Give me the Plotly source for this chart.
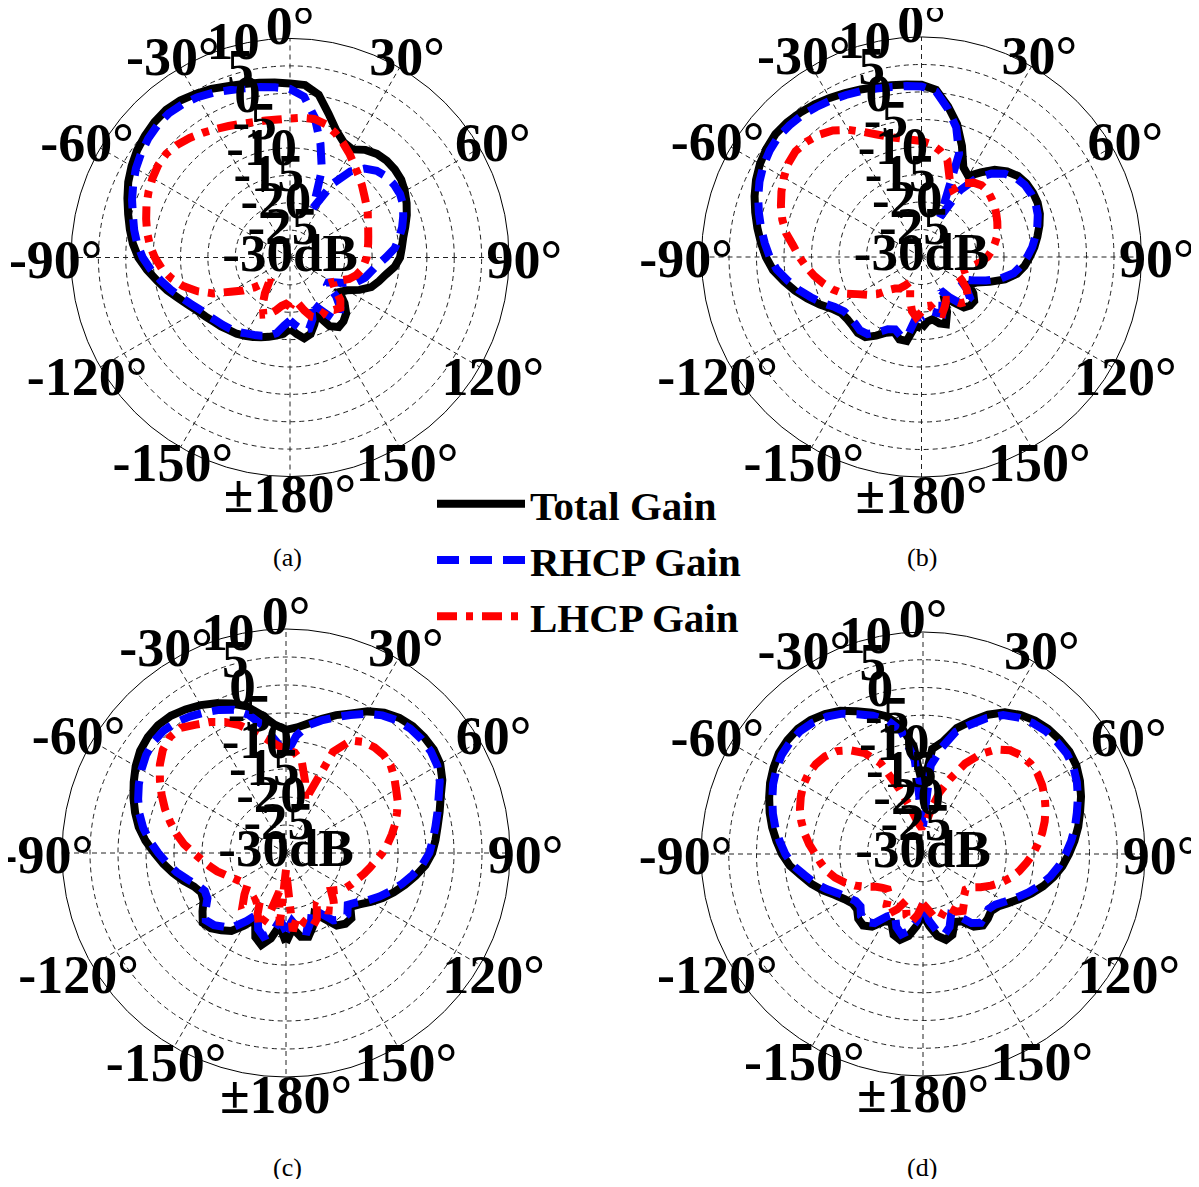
import plotly.graph_objects as go

# ---------------- data (dB, angles in degrees, clockwise from top) ----------------
THETA = list(range(-180, 181, 5))

A_TOTAL = [-17, -16, -15.5, -15, -14.5, -14, -13.5, -13, -12.7, -12.2, -11.8, -11.2, -10.5, -9.5, -8.3, -6.8,
           -5.4, -3.8, -2.3, -1.2, -0.3, 0.6, 1.6, 2.6, 3.4, 4.1, 4.6, 5.0, 5.2, 5.0, 4.5, 4.0, 3.3, 2.8, 2.4,
           2.1, 1.8, 1.6, 0.2, -2.8, -5.3, -6.8, -7.2, -6.0, -5.3, -5.0, -5.0, -5.2, -5.8, -6.5, -7.3, -8.2,
           -9.0, -9.5, -9.9, -10.8, -12.2, -13.2, -14.2, -16, -18, -19, -17, -15.5, -14.8, -14.5, -15.5, -18.5,
           -17, -15.5, -15, -16, -17]
A_RHCP = [-18.5, -17.5, -16, -15.2, -14.8, -14.4, -14, -13.4, -13, -12.6, -12.2, -11.6, -11, -10, -8.8, -7.4,
          -6, -4.5, -3.1, -2, -1.1, -0.3, 0.7, 1.6, 2.5, 3.2, 3.8, 4.2, 4.4, 4.2, 3.8, 3.2, 2.5, 2, 1.6, 1.2,
          0.8, -0.5, -4, -8.5, -13, -20, -14.5, -10.8, -8.8, -7.6, -7, -6.8, -6.8, -7.2, -8, -8.8, -9.8, -10.8,
          -12.5, -14, -15, -15.8, -17, -19, -21, -22, -19, -17, -16, -16.5, -19, -21, -18, -16.5, -16.5, -17.5,
          -18.5]
A_LHCP = [-21, -21.5, -21, -20, -19, -18.5, -20, -22, -24, -23.5, -21.5, -19.5, -17.5, -14.5, -12, -9.8, -8,
          -6.5, -5.3, -4.3, -3.5, -2.8, -2.1, -1.5, -1, -0.6, -0.5, -0.9, -1.5, -2.2, -2.9, -3.5, -4, -4.4,
          -4.6, -4.7, -4.6, -4.4, -4.3, -4.8, -5.8, -7, -8.2, -9.5, -10.5, -11.4, -12.3, -13, -13.6, -14.3,
          -14.8, -15.2, -15.5, -15.8, -16, -16.4, -16.8, -17.5, -18.5, -20, -21, -20, -18, -17, -17.5, -18.5,
          -18, -17.8, -18.5, -20, -21.5, -22, -21]

B_TOTAL = [-17, -17.5, -14.5, -14.5, -15.5, -14.8, -13.5, -12.2, -12, -12.3, -12.4, -12.2, -11.2, -9.6, -7.9,
           -6.2, -4.6, -2.9, -1.7, -0.7, 0.3, 1.3, 2.3, 3.2, 3.9, 4.4, 4.7, 4.6, 4.3, 3.9, 3.4, 2.9, 2.4, 2.0,
           1.7, 1.5, 1.3, 0.5, -2.2, -5, -8.5, -12, -13, -11.2, -9.3, -8, -7.1, -6.7, -6.6, -6.7, -7.1, -7.8,
           -8.6, -9.4, -10.3, -11.2, -12.4, -14.3, -16.8, -19, -20, -18.5, -17.5, -17.5, -18, -20, -22, -19,
           -17, -17.5, -18.5, -18.2, -17]
B_RHCP = [-19, -19, -15.5, -15.2, -16, -15.5, -14.2, -12.9, -12.6, -12.9, -13, -12.8, -11.8, -10.2, -8.6, -6.9,
          -5.3, -3.6, -2.4, -1.4, -0.4, 0.6, 1.6, 2.5, 3.2, 3.7, 4, 3.9, 3.7, 3.3, 2.9, 2.5, 2.1, 1.7, 1.4, 1.2,
          1, 0.2, -2.6, -5.6, -10, -22, -16, -12.5, -10.2, -8.6, -7.6, -7.1, -7, -7.1, -7.5, -8.2, -9, -9.8,
          -10.8, -11.8, -13, -15, -17.5, -20, -22, -20, -18.5, -18.5, -19, -21, -23, -21, -19, -19.5, -20,
          -19.5, -19]
B_LHCP = [-20, -19, -20, -22, -24, -25, -24, -23, -22.5, -21.5, -19.5, -18, -16.5, -14.3, -12.8, -11.5, -10.2,
          -9, -7.8, -6.6, -5, -3.8, -2.8, -1.9, -1.1, -0.4, -0.1, -0.4, -1, -1.9, -3.3, -4.9, -6.3, -7.4, -8.1,
          -8.6, -8.9, -9.4, -10.4, -11.8, -15, -16.5, -14.5, -13.5, -13, -13, -13.4, -13.8, -14.3, -14.8,
          -15.3, -15.8, -16.5, -17.2, -18, -19.2, -20.5, -21.5, -22.5, -23, -21.5, -20, -19, -18.5, -19,
          -20.5, -21, -20, -19, -19.5, -21, -21, -20]

C_TOTAL = [-14, -17, -14.5, -13, -14, -17, -15, -13, -12, -11, -10.6, -11.8, -13, -13.3, -12.5, -11, -9.5, -8,
           -6.5, -4.8, -3.3, -2.1, -1.0, 0, 1.0, 1.8, 2.2, 2.3, 2.0, 1.3, 0.5, -0.5, -1.6, -2.9, -5, -7, -8,
           -7.5, -6.5, -5.2, -3.8, -2.5, -0.8, 0.6, 1.5, 2, 2.2, 2.2, 1.8, 0.8, -0.6, -1.6, -2.5, -3.2, -3.9,
           -5, -6.5, -8, -9.5, -11, -12.5, -14, -15, -13.5, -13.5, -14.2, -16.5, -18, -16, -14.5, -14.8, -16.5,
           -14]
C_RHCP = [-16, -18, -15.5, -14.5, -15.5, -18, -16, -14, -12.8, -11.8, -11.3, -12.5, -13.8, -14, -13.2, -11.8,
          -10.2, -8.7, -7.2, -5.6, -4.1, -2.9, -1.9, -1.0, -0.2, 0.5, 0.9, 0.9, 0.5, -0.2, -1, -1.8, -2.8, -4.5,
          -7, -10, -12.5, -9, -6.8, -5.5, -4.2, -2.8, -1.3, 0, 0.9, 1.4, 1.6, 1.6, 1.2, 0.3, -1, -2, -2.9, -3.7,
          -4.4, -5.6, -7.1, -8.6, -10.1, -11.6, -13.1, -14.6, -15.6, -14.5, -14.5, -15.3, -17.5, -19, -17,
          -15.5, -16, -17.8, -16]
C_LHCP = [-27, -17, -23, -19, -16, -18, -21, -19.5, -18, -19.5, -21, -20.8, -20.2, -19.5, -18.5, -17.3, -16.2,
          -15, -13.5, -11.7, -10.1, -8.6, -7, -5.5, -4, -2.5, -1.3, -0.7, -0.8, -2, -3, -4.2, -5.7, -7.6, -9.3,
          -10.6, -11.5, -12, -13.6, -16.8, -20, -10, -6.8, -5.8, -5.4, -5.3, -5.6, -6.4, -7.3, -8, -8.9, -9.8,
          -10.8, -11.8, -12.8, -13.9, -14.8, -15.6, -16.4, -17, -17.6, -18.5, -19.5, -18, -16.5, -17.5, -19,
          -17, -16, -17, -18.5, -16, -27]

D_TOTAL = [-19, -17, -15, -14, -14.5, -16.5, -16, -14, -13.2, -13.5, -14.5, -14.5, -13.7, -12.5, -10.8, -9.2,
           -7.7, -5.9, -4.6, -3.5, -2.4, -1.4, -0.5, 0.4, 1.1, 1.7, 1.9, 1.9, 1.5, 0.8, -0.2, -1.6, -2.9, -4.3,
           -6.5, -10.5, -18, -11, -9.5, -6.5, -4.5, -2.3, -0.5, 0.6, 1.4, 1.9, 2.1, 2.2, 1.9, 1.2, 0.3, -0.7,
           -1.6, -2.6, -3.7, -4.8, -6.1, -7.6, -9.2, -10.8, -12.3, -13.5, -14, -13.5, -13.2, -14, -16, -16.5,
           -14.5, -14, -15, -17, -19]
D_RHCP = [-21, -18, -16, -15, -16, -18, -17, -14.8, -14, -14.2, -15.3, -15.2, -14.4, -13.2, -11.5, -9.8, -8.3,
          -6.5, -5.2, -4.1, -3, -2, -1.1, -0.2, 0.5, 1.1, 1.3, 1.3, 0.9, 0.2, -0.8, -2.2, -3.5, -5, -7.5, -13,
          -25, -14, -10.5, -7.2, -5.2, -3, -1.1, 0, 0.8, 1.3, 1.5, 1.6, 1.3, 0.6, -0.3, -1.3, -2.2, -3.2, -4.3,
          -5.4, -6.7, -8.2, -9.8, -11.4, -12.9, -14.1, -14.6, -14.2, -13.8, -14.8, -17, -18, -16, -15, -16,
          -18, -21]
D_LHCP = [-21, -19, -17.5, -18.5, -21, -19, -17.5, -18.5, -20.5, -21, -20.5, -19.7, -18.2, -16.5, -15, -13.6,
          -12.4, -11.5, -10.6, -9.4, -8.3, -7.3, -6.4, -5.7, -5.1, -4.8, -4.8, -5.1, -5.8, -7.2, -9, -12,
          -17.5, -21.5, -24, -25, -25, -24.5, -22, -18.5, -15.5, -12, -9.2, -7, -5.6, -4.9, -4.7, -4.8, -5.2,
          -5.8, -6.5, -7.3, -8.2, -9.2, -10.2, -11.3, -12.4, -13.6, -15, -16.5, -18, -19.5, -20, -19.5, -18.5,
          -17.5, -18, -19.5, -19, -18, -18.5, -20, -21]

SERIES_NAMES = ["Total Gain", "RHCP Gain", "LHCP Gain"]
PANELS = {
    "a": [A_TOTAL, A_RHCP, A_LHCP],
    "b": [B_TOTAL, B_RHCP, B_LHCP],
    "c": [C_TOTAL, C_RHCP, C_LHCP],
    "d": [D_TOTAL, D_RHCP, D_LHCP],
}
CAPTIONS = ["(a)", "(b)", "(c)", "(d)"]

R_TICKS = [10, 5, 0, -5, -10, -15, -20, -25, -30]
R_TICK_TEXT = ["10", "5", "0", "-5", "-10", "-15", "-20", "-25", "-30dB"]
ANG_TICKS = [0, 30, 60, 90, 120, 150, 180, -150, -120, -90, -60, -30]
ANG_TICK_TEXT = ["0°", "30°", "60°", "90°", "120°", "150°", "±180°", "-150°", "-120°", "-90°", "-60°", "-30°"]

# ---------------- layout geometry ----------------
W, H, OFF = 1183, 1171, 8
GEOM = {"a": (290, 257.5, 219), "b": (921.5, 257, 220), "c": (286, 853, 224), "d": (923, 854, 222)}
R_MIN, R_MAX = -30, 10
RLABEL_ANGLE = -15
LABEL_RING = 1.07      # angular labels sit on a ring this many radii out
LABEL_DROP = 7         # px the label ring is lowered (text baseline compensation)

FONT = "Liberation Serif"
GRID = dict(showgrid=True, gridcolor="#222222", gridwidth=1, griddash="5px,4px")
STYLES = [
    dict(color="#000000", width=8, dash="solid"),
    dict(color="#0000ff", width=8, dash="22px,11px"),
    dict(color="#ff0000", width=8, dash="20px,9px,7px,9px"),
]
HIDDEN = dict(showgrid=False, showline=False, showticklabels=False, ticks="")


def domain(cx, cy, R):
    return dict(x=[(cx - OFF - R) / W, (cx - OFF + R) / W],
                y=[1 - (cy - OFF + R) / H, 1 - (cy - OFF - R) / H])


fig = go.Figure()
layout_polars = {}
keys = ["a", "b", "c", "d"]
for i, key in enumerate(keys):
    sub = "polar" if i == 0 else f"polar{i + 1}"
    for j, vals in enumerate(PANELS[key]):
        fig.add_trace(go.Scatterpolar(
            r=vals, theta=THETA, mode="lines", name=SERIES_NAMES[j],
            line=dict(color=STYLES[j]["color"], width=STYLES[j]["width"], dash=STYLES[j]["dash"]),
            showlegend=(i == 0), legendgroup=SERIES_NAMES[j], subplot=sub, hoverinfo="skip"))
    # radial tick labels
    fig.add_trace(go.Scatterpolar(
        r=R_TICKS, theta=[RLABEL_ANGLE] * len(R_TICKS), mode="text", text=R_TICK_TEXT,
        textposition="middle center",
        textfont=dict(family=FONT, size=53, color="black", weight="bold"),
        showlegend=False, subplot=sub, hoverinfo="skip"))
    cx, cy, R = GEOM[key]
    layout_polars[sub] = dict(
        domain=domain(cx, cy, R),
        bgcolor="rgba(0,0,0,0)",
        angularaxis=dict(rotation=90, direction="clockwise", tickmode="array",
                         tickvals=list(range(0, 360, 30)), showticklabels=False, ticks="",
                         showline=True, linecolor="black", linewidth=1, **GRID),
        radialaxis=dict(range=[R_MIN, R_MAX], tickmode="array", tickvals=R_TICKS[1:-1],
                        showticklabels=False, ticks="", showline=False, **GRID),
    )

for i, key in enumerate(keys):
    lab = f"polar{i + 5}"
    cx, cy, R = GEOM[key]
    # angular tick labels on a slightly larger, invisible polar frame
    fig.add_trace(go.Scatterpolar(
        r=[R_MAX] * len(ANG_TICKS), theta=ANG_TICKS, mode="text", text=ANG_TICK_TEXT,
        textposition="middle center",
        textfont=dict(family=FONT, size=54, color="black", weight="bold"),
        showlegend=False, subplot=lab, cliponaxis=False, hoverinfo="skip"))
    layout_polars[lab] = dict(
        domain=domain(cx, cy + LABEL_DROP, R * LABEL_RING),
        bgcolor="rgba(0,0,0,0)",
        angularaxis=dict(rotation=90, direction="clockwise", **HIDDEN),
        radialaxis=dict(range=[R_MIN, R_MAX], **HIDDEN),
    )

fig.update_layout(**layout_polars)

CAP_POS = [(287, 557), (922, 557), (287, 1167), (922, 1167)]
for cap, (x, y) in zip(CAPTIONS, CAP_POS):
    fig.add_annotation(x=(x - OFF) / W, y=1 - (y - OFF) / H, xref="paper", yref="paper",
                       text=cap, showarrow=False, font=dict(family=FONT, size=26, color="black"),
                       xanchor="center", yanchor="middle")

fig.update_layout(
    width=W, height=H, margin=dict(l=0, r=0, t=0, b=0),
    paper_bgcolor="white", plot_bgcolor="white",
    legend=dict(x=(432 - OFF) / W, y=1 - (560 - OFF) / H, xanchor="left", yanchor="middle",
                bgcolor="rgba(0,0,0,0)", font=dict(family=FONT, size=41, color="black", weight="bold"),
                itemwidth=88, tracegroupgap=0),
)

fig.write_html("out.html")
